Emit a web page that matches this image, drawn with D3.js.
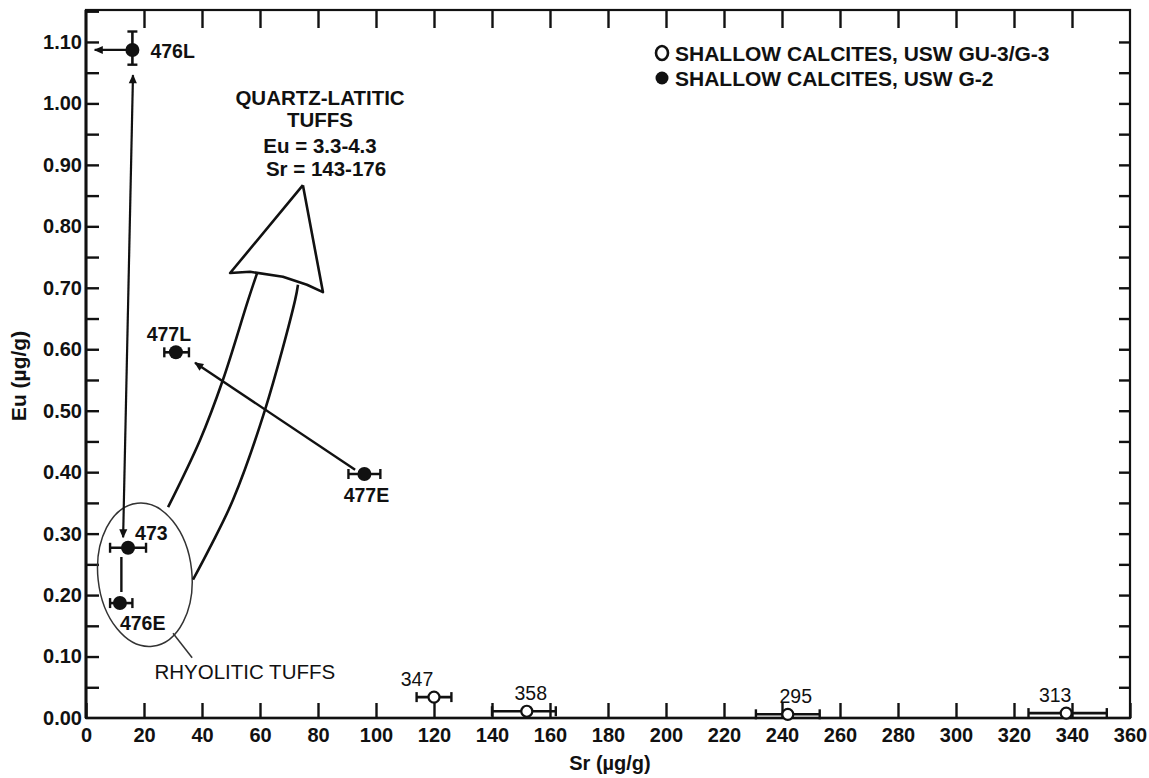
<!DOCTYPE html>
<html>
<head>
<meta charset="utf-8">
<script src="https://cdn.jsdelivr.net/npm/d3@7"></script>
<style>
body { margin: 0; background: #fff; }
svg { display: block; }
text { font-family: "Liberation Sans", Arial, Helvetica, sans-serif; fill: #111; }
</style>
</head>
<body>
<svg id="chart"></svg>
<script>
const width = 1149, height = 778;

// axis ticks
const xTicks = d3.range(0, 361, 20);
const yTicks = d3.range(0, 1.1001, 0.1);
const yMinor = d3.range(0, 1.1501, 0.05);

// shallow calcites, USW G-2 (filled)
const g2Name = ["476L", "473", "476E", "477L", "477E"];
const g2Sr = [16, 14.5, 11.7, 31, 96];
const g2Eu = [1.087, 0.277, 0.187, 0.595, 0.397];
const g2SrLo = [null, 8.3, 8.3, 27, 90.5];
const g2SrHi = [null, 20.7, 16, 35.5, 101.5];
const g2EuLo = [1.063, null, null, null, null];
const g2EuHi = [1.117, null, null, null, null];
const g2SrLimit = [3, null, null, null, null]; // upper-limit arrow

// shallow calcites, USW GU-3/G-3 (open)
const g3Name = ["347", "358", "295", "313"];
const g3Sr = [120, 152, 242, 338];
const g3Eu = [0.034, 0.011, 0.006, 0.008];
const g3SrLo = [114, 140, 231, 325];
const g3SrHi = [126, 162, 253, 352];

const legendLabels = ["SHALLOW CALCITES, USW GU-3/G-3", "SHALLOW CALCITES, USW G-2"];
const quartzText = ["QUARTZ-LATITIC", "TUFFS", "Eu = 3.3-4.3", "Sr = 143-176"];

// hand-drawn annotation outlines, in data units (Sr, Eu)
const qlLeft = [[59.0, 0.724], [55.9, 0.680], [47.2, 0.550], [39.3, 0.452], [28.3, 0.343]];
const qlRight = [[73.1, 0.705], [72.1, 0.680], [61.7, 0.501], [50.7, 0.355], [42.8, 0.278], [36.9, 0.225]];
const qlHead = [[74.8, 0.867], [49.7, 0.724], [56.6, 0.726], [67.9, 0.718], [76.2, 0.705], [81.7, 0.693], [74.8, 0.867]];

const x = d3.scaleLinear().domain([0, 360]).range([86, 1130]);
const y = d3.scaleLinear().domain([0, 1.152]).range([718, 10]);
const ink = "#111";

const svg = d3.select("#chart").attr("width", width).attr("height", height);

const defs = svg.append("defs");
defs.append("marker")
  .attr("id", "ah")
  .attr("viewBox", "0 0 10 10")
  .attr("refX", 9).attr("refY", 5)
  .attr("markerUnits", "userSpaceOnUse")
  .attr("markerWidth", 11).attr("markerHeight", 9)
  .attr("orient", "auto-start-reverse")
  .append("path").attr("d", "M0,0.5 L10,5 L0,9.5 Z").attr("fill", ink);

// frame
svg.append("rect")
  .attr("x", x(0)).attr("y", y(1.152))
  .attr("width", x(360) - x(0)).attr("height", y(0) - y(1.152))
  .attr("fill", "none").attr("stroke", ink).attr("stroke-width", 2.2);
svg.append("line").attr("x1", x(0)).attr("x2", x(0)).attr("y1", y(1.152)).attr("y2", y(0))
  .attr("stroke", ink).attr("stroke-width", 3);
svg.append("line").attr("x1", x(0)).attr("x2", x(360)).attr("y1", y(0)).attr("y2", y(0))
  .attr("stroke", ink).attr("stroke-width", 2.6);

// axes with inward ticks
const axBottom = svg.append("g").attr("transform", `translate(0,${y(0)})`)
  .call(d3.axisBottom(x).tickValues(xTicks).tickSize(-15).tickPadding(22).tickFormat(d3.format("d")));
const axTop = svg.append("g").attr("transform", `translate(0,${y(1.152)})`)
  .call(d3.axisTop(x).tickValues(xTicks.slice(1, -1)).tickSize(-18).tickFormat(""));
const axLeft = svg.append("g").attr("transform", `translate(${x(0)},0)`)
  .call(d3.axisLeft(y).tickValues(yMinor.slice(1)).tickSize(-13).tickFormat(""));
const axLeftLab = svg.append("g").attr("transform", `translate(${x(0)},0)`)
  .call(d3.axisLeft(y).tickValues(yTicks).tickSize(0).tickPadding(4).tickFormat(d3.format(".2f")));
const axRight = svg.append("g").attr("transform", `translate(${x(360)},0)`)
  .call(d3.axisRight(y).tickValues(yMinor.slice(1, -1)).tickSize(-11).tickFormat(""));

[axBottom, axTop, axLeft, axLeftLab, axRight].forEach(a => {
  a.select(".domain").remove();
  a.selectAll(".tick line").attr("stroke", ink).attr("stroke-width", 2.4);
  a.selectAll(".tick text").attr("font-size", 20).attr("font-weight", "bold").attr("fill", ink)
    .style("font-family", '"Liberation Sans", Arial, sans-serif');
});
axBottom.selectAll(".tick text").attr("dy", "0.1em");

// axis titles
svg.append("text").attr("x", 610).attr("y", 770).attr("text-anchor", "middle")
  .attr("font-size", 20).attr("font-weight", "bold").text("Sr (µg/g)");
svg.append("text").attr("transform", "translate(26,376) rotate(-90)").attr("text-anchor", "middle")
  .attr("font-size", 21).attr("font-weight", "bold").text("Eu (µg/g)");

// legend
const leg = svg.append("g").attr("font-size", 21).attr("font-weight", "bold");
leg.append("ellipse").attr("cx", 662).attr("cy", 53).attr("rx", 6).attr("ry", 7)
  .attr("fill", "#fff").attr("stroke", ink).attr("stroke-width", 2.6);
leg.append("circle").attr("cx", 662).attr("cy", 78).attr("r", 6.5).attr("fill", ink);
leg.selectAll("text.lg").data(legendLabels).join("text")
  .attr("x", 675).attr("y", (d, i) => 53 + i * 25).attr("dy", "0.36em").text(d => d);

// rhyolitic ellipse and label
const ell = {sr: 20.3, eu: 0.233, rsr: 16.2, reu: 0.117};
svg.append("ellipse")
  .attr("transform", `translate(${x(ell.sr)},${y(ell.eu)}) rotate(-6)`)
  .attr("rx", x(ell.rsr) - x(0)).attr("ry", y(0) - y(ell.reu))
  .attr("fill", "none").attr("stroke", "#333").attr("stroke-width", 1.5);
svg.append("line").attr("x1", x(36.6)).attr("y1", y(0.098)).attr("x2", x(30)).attr("y2", y(0.138))
  .attr("stroke", "#333").attr("stroke-width", 1.5);
svg.append("text").attr("x", x(23.6)).attr("y", y(0.075)).attr("dy", "0.36em")
  .attr("font-size", 20.5).text("RHYOLITIC TUFFS");

// quartz-latitic tuffs arrow
const line = d3.line().x(d => x(d[0])).y(d => y(d[1]));
const curve = d3.line().x(d => x(d[0])).y(d => y(d[1])).curve(d3.curveCatmullRom);
svg.append("path").attr("d", curve(qlLeft)).attr("fill", "none").attr("stroke", ink).attr("stroke-width", 2.6);
svg.append("path").attr("d", curve(qlRight)).attr("fill", "none").attr("stroke", ink).attr("stroke-width", 2.6);
svg.append("path").attr("d", line(qlHead)).attr("fill", "none").attr("stroke", ink)
  .attr("stroke-width", 2.6).attr("stroke-linejoin", "round");
svg.append("g").attr("font-size", 20.5).attr("font-weight", "bold").attr("text-anchor", "middle")
  .selectAll("text").data(quartzText).join("text")
  .attr("x", (d, i) => x(80.7) + (i === 3 ? 6 : 0))
  .attr("y", (d, i) => y(1.010) + [0, 22, 48, 71][i])
  .attr("dy", "0.36em").text(d => d);

// trend arrows
svg.append("line").attr("x1", x(12.8)).attr("y1", y(0.294)).attr("x2", x(16.2)).attr("y2", y(1.046))
  .attr("stroke", ink).attr("stroke-width", 2.2)
  .attr("marker-start", "url(#ah)").attr("marker-end", "url(#ah)");
svg.append("line").attr("x1", x(92.8)).attr("y1", y(0.404)).attr("x2", x(37.6)).attr("y2", y(0.578))
  .attr("stroke", ink).attr("stroke-width", 2.4).attr("marker-end", "url(#ah)");

// connector 473 - 476E
svg.append("line").attr("x1", x(12.2)).attr("x2", x(12.2)).attr("y1", y(0.262)).attr("y2", y(0.205))
  .attr("stroke", ink).attr("stroke-width", 2.4);

// error bars
function hBar(g, lo, hi, cy) {
  g.append("line").attr("x1", x(lo)).attr("x2", x(hi)).attr("y1", cy).attr("y2", cy)
    .attr("stroke", ink).attr("stroke-width", 2.6);
  [lo, hi].forEach(v => g.append("line").attr("x1", x(v)).attr("x2", x(v))
    .attr("y1", cy - 5).attr("y2", cy + 5).attr("stroke", ink).attr("stroke-width", 2.4));
}

const g2 = svg.append("g");
g2Name.forEach((n, i) => {
  const cx = x(g2Sr[i]), cy = y(g2Eu[i]);
  if (g2SrLo[i] != null) hBar(g2, g2SrLo[i], g2SrHi[i], cy);
  if (g2EuLo[i] != null) {
    g2.append("line").attr("x1", cx).attr("x2", cx).attr("y1", y(g2EuLo[i])).attr("y2", y(g2EuHi[i]))
      .attr("stroke", ink).attr("stroke-width", 2.6);
    [g2EuLo[i], g2EuHi[i]].forEach(v => g2.append("line").attr("x1", cx - 5).attr("x2", cx + 5)
      .attr("y1", y(v)).attr("y2", y(v)).attr("stroke", ink).attr("stroke-width", 2.4));
  }
  if (g2SrLimit[i] != null) {
    g2.append("line").attr("x1", cx).attr("x2", x(g2SrLimit[i])).attr("y1", cy).attr("y2", cy)
      .attr("stroke", ink).attr("stroke-width", 2.2).attr("marker-end", "url(#ah)");
  }
  g2.append("circle").attr("cx", cx).attr("cy", cy).attr("r", 7).attr("fill", ink);
});

const g2Off = [[18, 1, "start"], [7, -15, "start"], [0, 20, "start"], [-7, -18, "middle"], [2, 21, "middle"]];
svg.append("g").attr("font-size", 19.5).attr("font-weight", "bold")
  .selectAll("text").data(g2Name).join("text")
  .attr("x", (d, i) => x(g2Sr[i]) + g2Off[i][0])
  .attr("y", (d, i) => y(g2Eu[i]) + g2Off[i][1])
  .attr("dy", "0.36em").attr("text-anchor", (d, i) => g2Off[i][2]).text(d => d);

const g3 = svg.append("g");
g3Name.forEach((n, i) => {
  const cy = y(g3Eu[i]);
  hBar(g3, g3SrLo[i], g3SrHi[i], cy);
  g3.append("circle").attr("cx", x(g3Sr[i])).attr("cy", cy).attr("r", 5.5)
    .attr("fill", "#fff").attr("stroke", ink).attr("stroke-width", 2.2);
});
const g3Off = [[-17, -18], [4, -18], [8, -18], [-11, -18]];
svg.append("g").attr("font-size", 19.5).attr("text-anchor", "middle")
  .selectAll("text").data(g3Name).join("text")
  .attr("x", (d, i) => x(g3Sr[i]) + g3Off[i][0])
  .attr("y", (d, i) => y(g3Eu[i]) + g3Off[i][1])
  .attr("dy", "0.36em").text(d => d);
</script>
</body>
</html>
